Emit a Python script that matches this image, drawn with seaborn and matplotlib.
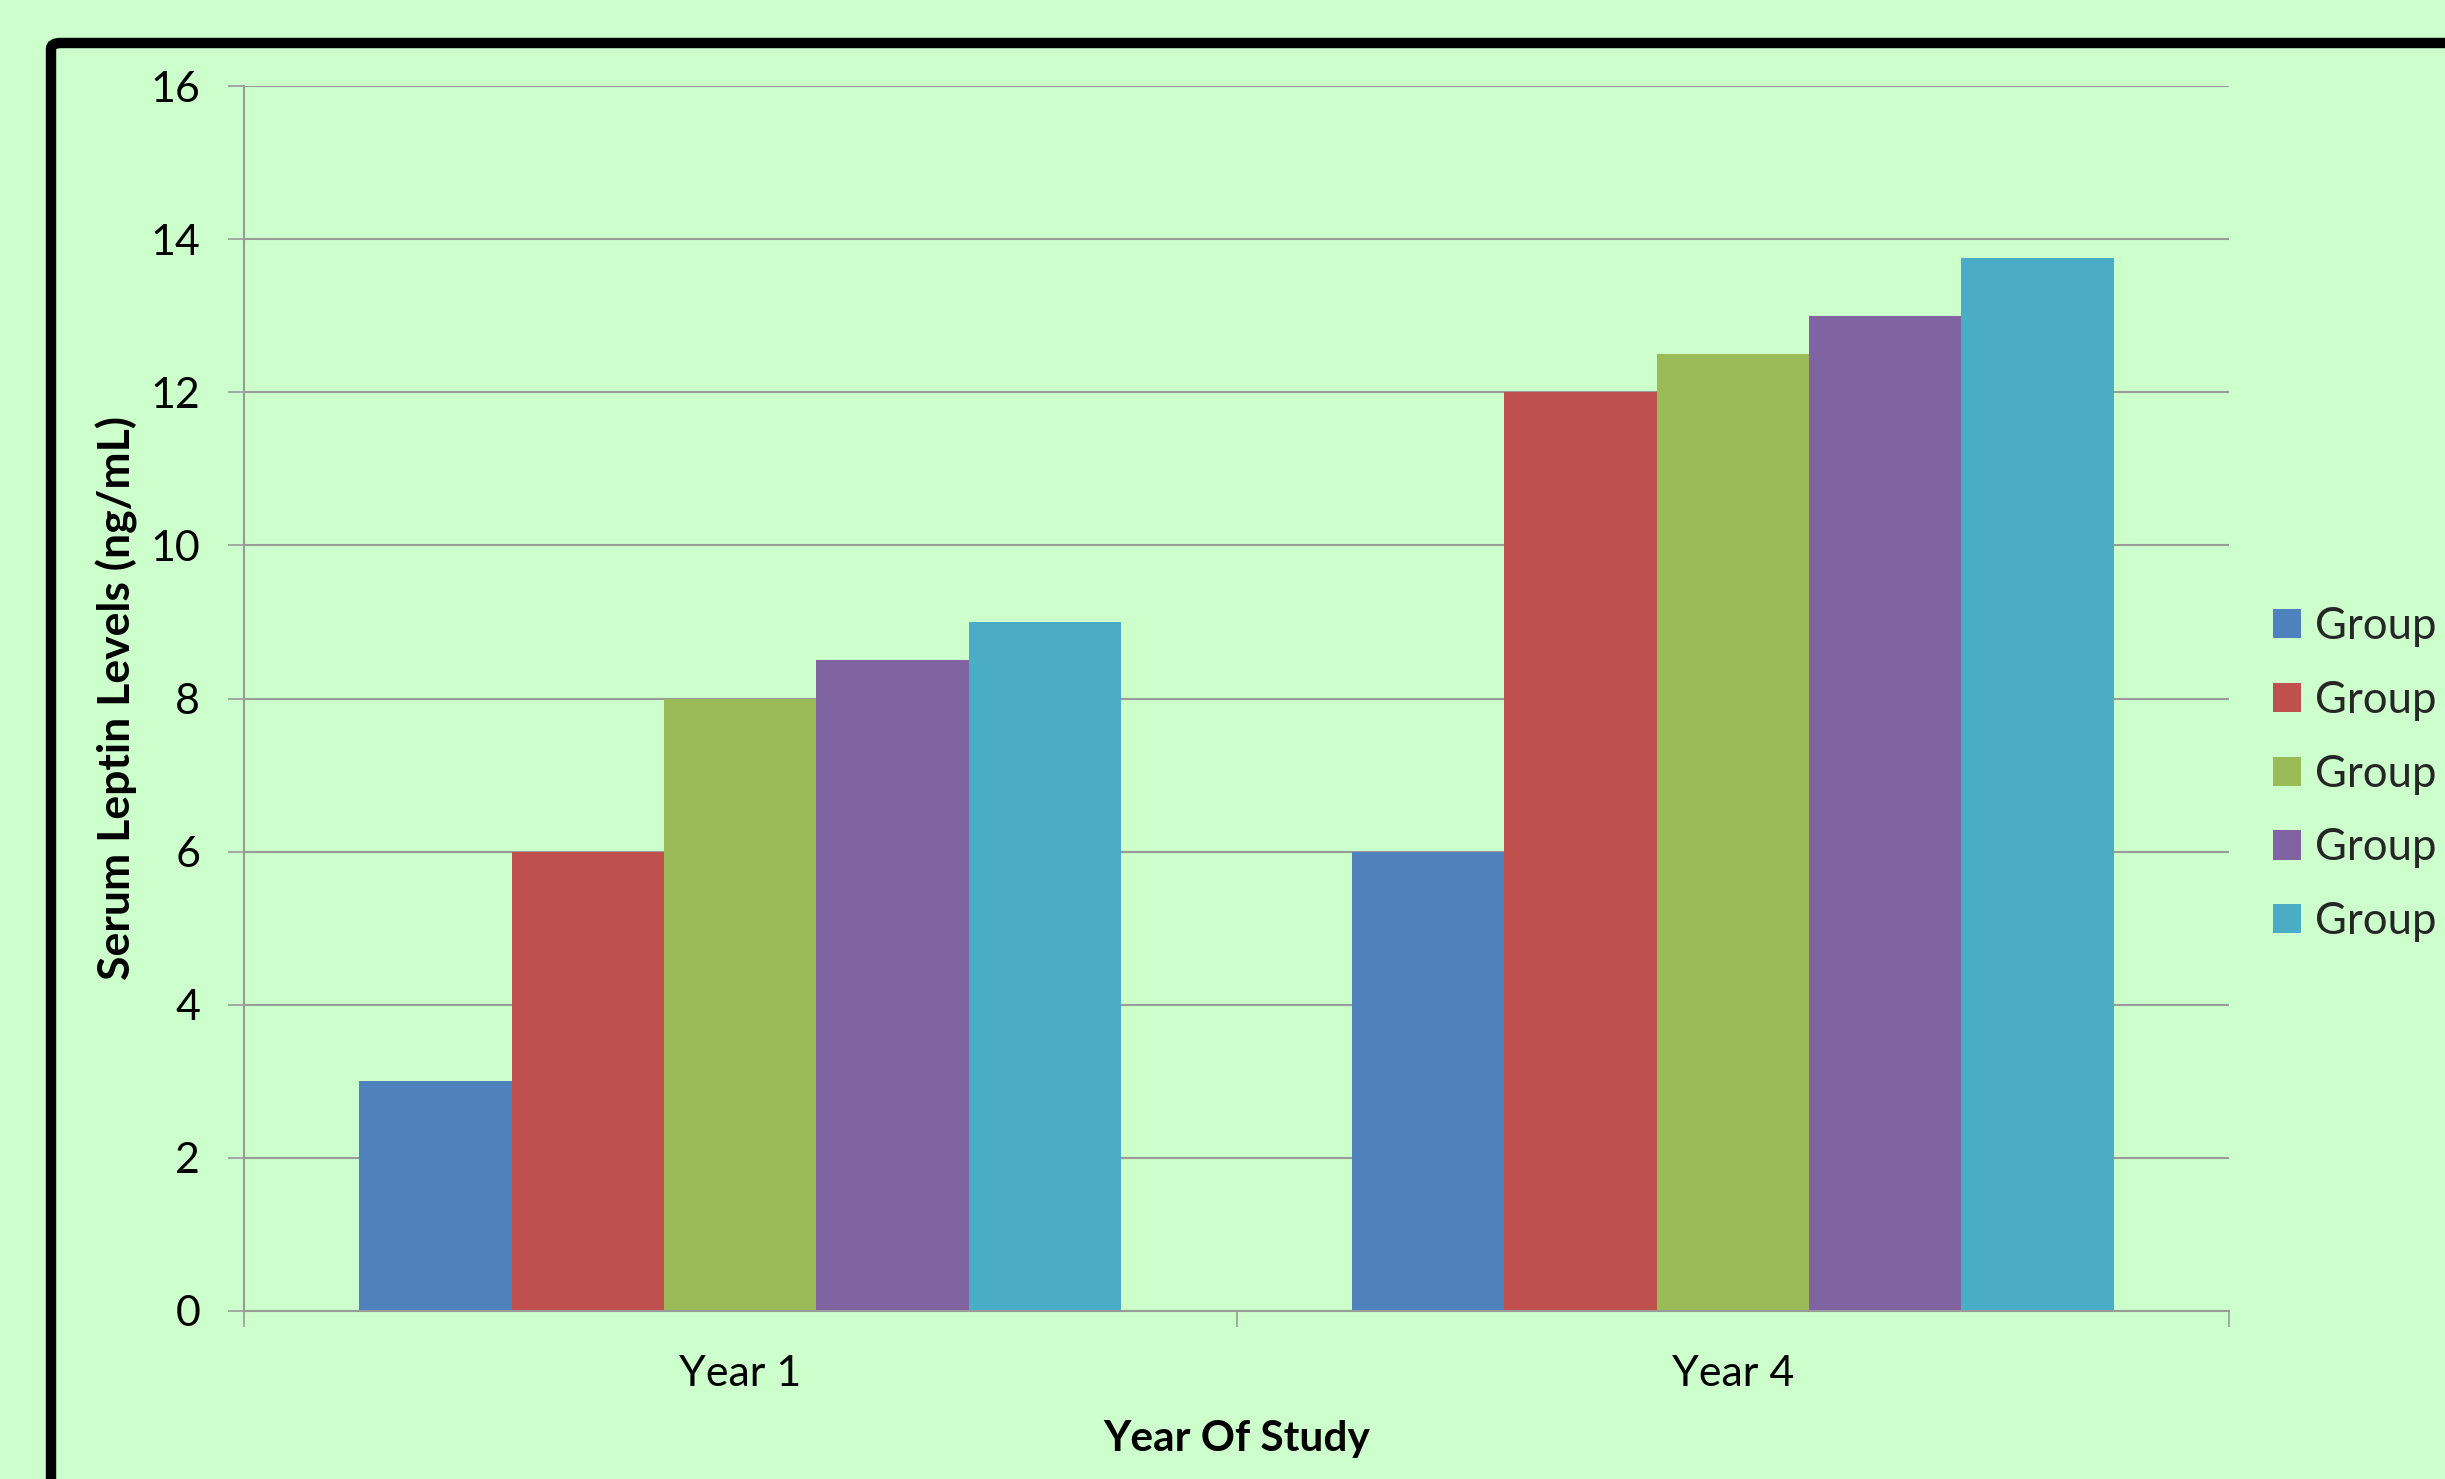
import matplotlib
matplotlib.use("Agg")
import matplotlib.pyplot as plt
import matplotlib.patches as mpatches
import seaborn as sns
import pandas as pd

# ---- data ----
years = ["Year 1", "Year 4"]
groups = ["Group 1", "Group 2", "Group 3", "Group 4", "Group 5"]
legend_labels = ["Group", "Group", "Group", "Group", "Group"]
group1 = [3.0, 6.0]
group2 = [6.0, 12.0]
group3 = [8.0, 12.5]
group4 = [8.5, 13.0]
group5 = [9.0, 13.75]
colors = ["#4F81BD", "#C0504D", "#9BBB59", "#8064A2", "#4BACC6"]
y_ticks = [0, 2, 4, 6, 8, 10, 12, 14, 16]

series = [group1, group2, group3, group4, group5]
rows = []
for g, vals in zip(groups, series):
    for yr, v in zip(years, vals):
        rows.append({"Year": yr, "Group": g, "Level": v})
df = pd.DataFrame(rows)

sns.set_theme(style="white")
plt.rcParams["font.family"] = ["Lato", "DejaVu Sans"]

BG = "#CCFFCC"
GRID = "#9A9A9A"
W, H = 2445, 1479
fig = plt.figure(figsize=(W / 100, H / 100), dpi=100)
fig.patch.set_facecolor(BG)

left, right, top, bottom = 244, 2229, 86, 1311
ax = fig.add_axes([left / W, 1 - bottom / H, (right - left) / W, (bottom - top) / H])
ax.set_facecolor(BG)

sns.barplot(data=df, x="Year", y="Level", hue="Group", palette=colors,
            width=0.768, saturation=1, linewidth=0, ax=ax, legend=False)

ax.set_xlim(-0.5, 1.5)
ax.set_ylim(0, 16)
ax.set_yticks(y_ticks)
ax.set_yticklabels([str(t) for t in y_ticks], fontsize=31)
ax.yaxis.grid(True, color=GRID, linewidth=1.5)
ax.set_axisbelow(True)
ax.tick_params(axis="y", direction="out", length=11.5, width=1.2, color=GRID,
               pad=20, left=True, labelcolor="black")
ax.set_xticks([0, 1])
ax.set_xticklabels(years, fontsize=31)
ax.set_xticks([-0.5, 0.5, 1.5], minor=True)
ax.tick_params(axis="x", which="major", length=0, pad=32, labelcolor="black")
ax.tick_params(axis="x", which="minor", direction="out", length=11.5, width=1.2,
               color=GRID, bottom=True)

for s in ["top", "right"]:
    ax.spines[s].set_visible(False)
for s in ["left", "bottom"]:
    ax.spines[s].set_color(GRID)
    ax.spines[s].set_linewidth(1.5)

ax.set_xlabel("Year Of Study", fontsize=30.5, fontweight="bold", color="black")
ax.set_ylabel("Serum Leptin Levels (ng/mL)", fontsize=32, fontweight="bold", color="black")
ax.xaxis.label.set_va("center")
ax.yaxis.label.set_va("center")
ax.xaxis.set_label_coords(0.5, (bottom - 1439) / (bottom - top))
ax.yaxis.set_label_coords((117 - left) / (right - left), (bottom - 698) / (bottom - top))

handles = [mpatches.Patch(facecolor=c, edgecolor="none", label=g)
           for c, g in zip(colors, legend_labels)]
leg = fig.legend(handles=handles, loc="upper left",
                 bbox_to_anchor=(2273 / W, 1 - 606 / H), frameon=False,
                 fontsize=31.5, handlelength=0.65, handleheight=0.65,
                 handletextpad=0.3, labelspacing=0.75, borderpad=0, borderaxespad=0)

# slide border (thick black frame running off the right and bottom edges)
border = mpatches.FancyBboxPatch((51 / W, -0.2), 1.5, (1 - 43 / H) + 0.2,
                                 boxstyle="round,pad=0,rounding_size=0.004",
                                 transform=fig.transFigure, facecolor="none",
                                 edgecolor="black", linewidth=7.5, zorder=10)
fig.patches.append(border)

fig.savefig("out.png", dpi=100, facecolor=BG)
